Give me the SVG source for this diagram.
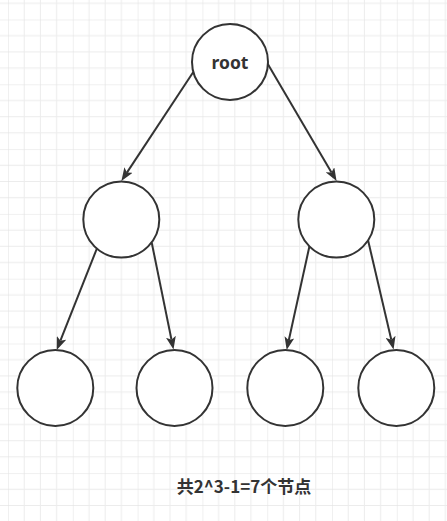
<svg xmlns="http://www.w3.org/2000/svg" width="447" height="521" viewBox="0 0 447 521">
  <defs>
    <!-- 16.2px minor grid with a darker line every 4 cells -->
    <pattern id="grid" patternUnits="userSpaceOnUse" x="8" y="19.5" width="64.8" height="64.8">
      <path d="M16.2,0 V64.8 M32.4,0 V64.8 M48.6,0 V64.8 M0,16.2 H64.8 M0,32.4 H64.8 M0,48.6 H64.8" stroke="#ececec" stroke-width="1" fill="none"/>
      <path d="M0,0 V64.8 M0,0 H64.8" stroke="#e2e2e2" stroke-width="1" fill="none"/>
    </pattern>
    <marker id="arrow" markerUnits="userSpaceOnUse" viewBox="0 0 13 10" refX="3" refY="5" markerWidth="13" markerHeight="10" orient="auto">
      <path d="M0,0 L13,5 L0,10 L3,5 Z" fill="#333333"/>
    </marker>
  </defs>
  <style>
    .node { fill: #ffffff; stroke: #333333; stroke-width: 2; }
    .edge { fill: none; stroke: #333333; stroke-width: 2; marker-end: url(#arrow); }
    .label { font-family: "Noto Sans", "Liberation Sans", sans-serif; font-weight: bold; fill: #333333; }
    .caption { font-family: "Noto Sans CJK SC", "Noto Sans", sans-serif; font-weight: bold; fill: #333333; }
  </style>

  <rect width="447" height="521" fill="#ffffff"/>
  <rect width="447" height="521" fill="url(#grid)"/>

  <g id="connectors">
    <path class="edge" d="M193.3,72 L126.9,172.6"/>
    <path class="edge" d="M267.5,63.5 L331.5,172.4"/>
    <path class="edge" d="M96.7,249 L60.4,340.7"/>
    <path class="edge" d="M151.7,242.5 L171.5,339.7"/>
    <path class="edge" d="M309.5,246 L288.8,340.2"/>
    <path class="edge" d="M368,240 L391.3,339.8"/>
  </g>

  <g id="root">
    <circle class="node" cx="230" cy="62" r="38"/>
    <text class="label" x="230" y="68.5" font-size="17.5" text-anchor="middle">root</text>
  </g>
  <g id="level1-left">
    <circle class="node" cx="121.3" cy="219.5" r="38"/>
  </g>
  <g id="level1-right">
    <circle class="node" cx="336.3" cy="219.5" r="38"/>
  </g>
  <g id="leaf-1">
    <circle class="node" cx="55.3" cy="388" r="38"/>
  </g>
  <g id="leaf-2">
    <circle class="node" cx="174.5" cy="388" r="38"/>
  </g>
  <g id="leaf-3">
    <circle class="node" cx="285.3" cy="388" r="38"/>
  </g>
  <g id="leaf-4">
    <circle class="node" cx="396.3" cy="388" r="38"/>
  </g>

  <g id="caption">
    <text class="caption" x="244" y="493" font-size="17" text-anchor="middle">共2^3-1=7个节点</text>
  </g>
</svg>
